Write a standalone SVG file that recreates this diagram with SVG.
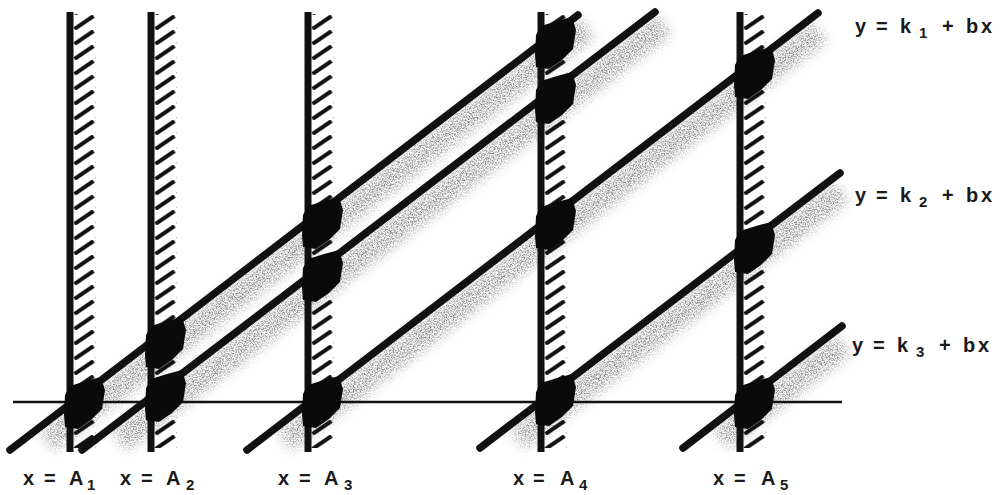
<svg xmlns="http://www.w3.org/2000/svg" width="1000" height="495" viewBox="0 0 1000 495">
<style>
.stem{fill:#111}
.diag{stroke:#111;stroke-width:7.5;stroke-linecap:round;fill:none}
.axis{stroke:#111;stroke-width:2.5;fill:none}
.blob{fill:#0a0a0a}
.shade{fill:#000;fill-opacity:0.85;filter:url(#stipple)}
.lbl{font-family:"Liberation Sans",Arial,sans-serif;font-weight:bold;font-size:20px;fill:#1a1a1a}
.sub{font-size:15px}
</style>
<defs>
<pattern id="hatch" width="22" height="15" patternUnits="userSpaceOnUse">
<line x1="1" y1="14" x2="20" y2="1" stroke="#111" stroke-width="4"/>
</pattern>
<filter id="stipple" filterUnits="userSpaceOnUse" x="0" y="0" width="1000" height="495" color-interpolation-filters="sRGB">
<feGaussianBlur in="SourceGraphic" stdDeviation="6" result="band"/>
<feTurbulence type="fractalNoise" baseFrequency="0.75" numOctaves="2" seed="7" result="noise"/>
<feColorMatrix in="noise" type="matrix" values="0 0 0 0 0.4  0 0 0 0 0.4  0 0 0 0 0.4  2.6 0 0 0 -0.95" result="dots"/>
<feComposite in="dots" in2="band" operator="in"/>
</filter>
<path id="blob" d="M -5 -9 L 0 -18 L 16 -23 L 31 -27 L 35 -14 L 32 5 L 21 16 L 8 25 L -5 23 L -6 11 Z"/>
</defs>
<rect width="1000" height="495" fill="#fff"/>

<g id="shading">
<polygon class="shade" points="39.6,431.1 579.8,17.4 595,37.2 54.8,450.9"/>
<polygon class="shade" points="111.6,431.1 656.8,14.4 672,34.2 126.8,450.9"/>
<polygon class="shade" points="276.6,431.1 811.9,21.5 827.1,41.3 291.8,450.9"/>
<polygon class="shade" points="509.6,429.1 833.9,181.5 849.1,201.3 524.8,448.9"/>
<polygon class="shade" points="712.6,429.1 835.9,334.5 851.1,354.3 727.8,448.9"/>
</g>

<g id="line-A1">
<g transform="translate(73.5,0)"><rect x="0" y="14" width="22" height="434" fill="url(#hatch)"/></g>
<rect class="stem" x="66.5" y="12" width="7" height="440"/>
<text class="lbl" y="485"><tspan x="23">x </tspan><tspan x="44">= </tspan><tspan x="69">A</tspan><tspan class="sub" x="87" dy="5">1</tspan></text>
</g>
<g id="line-A2">
<g transform="translate(154.5,0)"><rect x="0" y="14" width="22" height="434" fill="url(#hatch)"/></g>
<rect class="stem" x="147.5" y="12" width="7" height="440"/>
<text class="lbl" y="485"><tspan x="120">x </tspan><tspan x="141">= </tspan><tspan x="166">A</tspan><tspan class="sub" x="186" dy="5">2</tspan></text>
</g>
<g id="line-A3">
<g transform="translate(311.5,0)"><rect x="0" y="14" width="22" height="434" fill="url(#hatch)"/></g>
<rect class="stem" x="304.5" y="12" width="7" height="440"/>
<text class="lbl" y="485"><tspan x="278">x </tspan><tspan x="299">= </tspan><tspan x="324">A</tspan><tspan class="sub" x="344" dy="5">3</tspan></text>
</g>
<g id="line-A4">
<g transform="translate(544.5,0)"><rect x="0" y="14" width="22" height="434" fill="url(#hatch)"/></g>
<rect class="stem" x="537.5" y="12" width="7" height="440"/>
<text class="lbl" y="485"><tspan x="513">x </tspan><tspan x="533">= </tspan><tspan x="560">A</tspan><tspan class="sub" x="579" dy="5">4</tspan></text>
</g>
<g id="line-A5">
<g transform="translate(743.5,0)"><rect x="0" y="14" width="22" height="434" fill="url(#hatch)"/></g>
<rect class="stem" x="736.5" y="12" width="7" height="440"/>
<text class="lbl" y="485"><tspan x="713">x </tspan><tspan x="734">= </tspan><tspan x="761">A</tspan><tspan class="sub" x="780" dy="5">5</tspan></text>
</g>

<g id="axis">
<line class="axis" x1="13" y1="402" x2="842" y2="402"/>
</g>

<g id="connectors">
<g id="diag-1"><line class="diag" x1="10" y1="450" x2="578" y2="15"/></g>
<g id="diag-2"><line class="diag" x1="82" y1="450" x2="655" y2="12"/></g>
<g id="line-k1"><line class="diag" x1="247" y1="450" x2="818" y2="13"/>
<text class="lbl" y="33"><tspan x="855">y </tspan><tspan x="876">= </tspan><tspan x="900">k</tspan><tspan class="sub" x="919" dy="5">1 </tspan><tspan x="942" dy="-5">+ </tspan><tspan x="966">b</tspan><tspan x="981">x</tspan></text></g>
<g id="line-k2"><line class="diag" x1="480" y1="448" x2="840" y2="173"/>
<text class="lbl" y="202"><tspan x="855">y </tspan><tspan x="876">= </tspan><tspan x="900">k</tspan><tspan class="sub" x="919" dy="5">2 </tspan><tspan x="942" dy="-5">+ </tspan><tspan x="966">b</tspan><tspan x="981">x</tspan></text></g>
<g id="line-k3"><line class="diag" x1="683" y1="448" x2="842" y2="326"/>
<text class="lbl" y="352"><tspan x="852">y </tspan><tspan x="873">= </tspan><tspan x="897">k</tspan><tspan class="sub" x="916" dy="5">3 </tspan><tspan x="939" dy="-5">+ </tspan><tspan x="963">b</tspan><tspan x="978">x</tspan></text></g>
</g>

<g id="intersections" class="blob">
<use href="#blob" x="70" y="404"/>
<use href="#blob" x="151" y="344"/>
<use href="#blob" x="151" y="397"/>
<use href="#blob" x="308" y="224"/>
<use href="#blob" x="308" y="277"/>
<use href="#blob" x="308" y="403"/>
<use href="#blob" x="541" y="44"/>
<use href="#blob" x="541" y="99"/>
<use href="#blob" x="541" y="225"/>
<use href="#blob" x="541" y="401"/>
<use href="#blob" x="740" y="74"/>
<use href="#blob" x="740" y="249"/>
<use href="#blob" x="740" y="404"/>
</g>
</svg>
